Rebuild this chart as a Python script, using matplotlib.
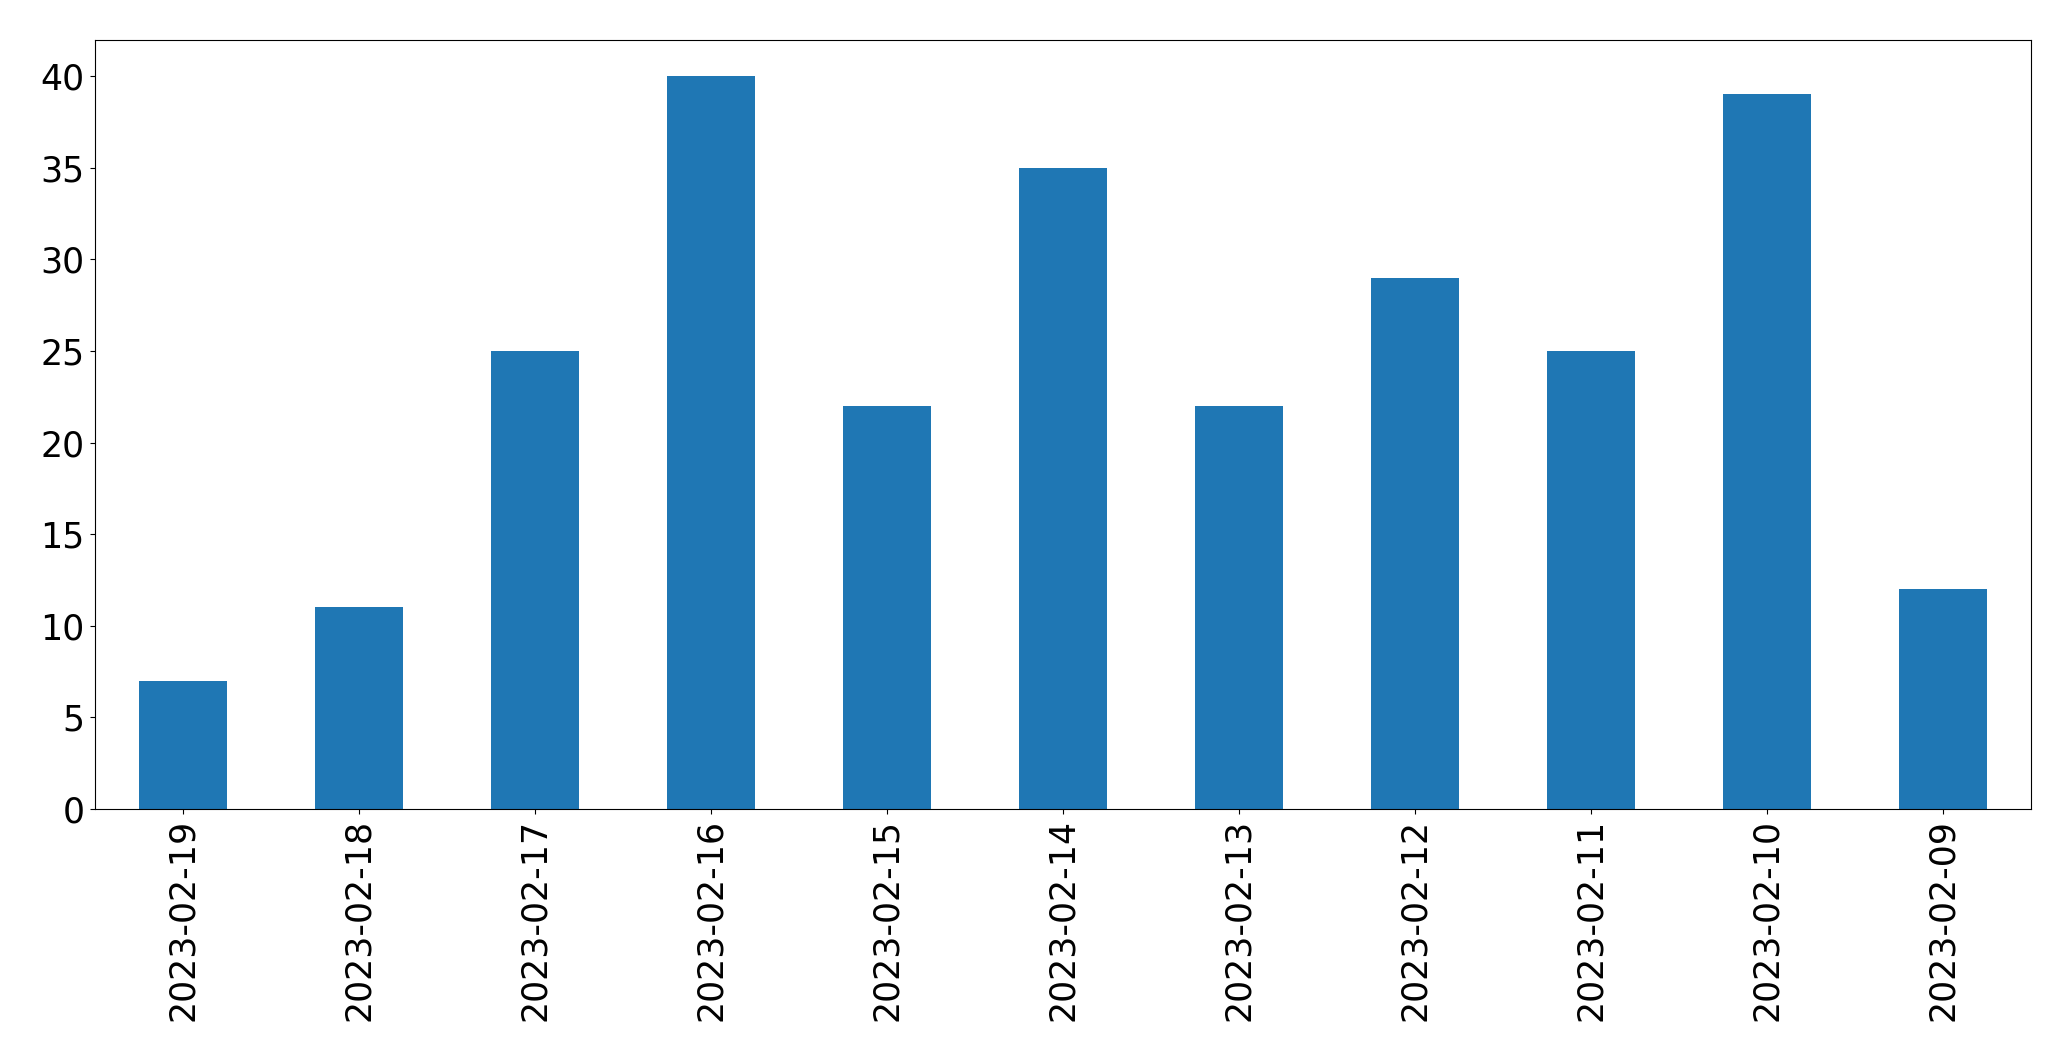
import matplotlib
matplotlib.use("Agg")
import matplotlib.pyplot as plt
import numpy as np

dates = ["2023-02-19", "2023-02-18", "2023-02-17", "2023-02-16", "2023-02-15",
         "2023-02-14", "2023-02-13", "2023-02-12", "2023-02-11", "2023-02-10",
         "2023-02-09"]
counts = [7, 11, 25, 40, 22, 35, 22, 29, 25, 39, 12]

W, H = 2071, 1061
fig = plt.figure(figsize=(W / 100, H / 100), dpi=100)
ax = fig.add_axes([94.5 / W, 1 - 809 / H, (2031 - 94.5) / W, (809 - 39.5) / H])

x = np.arange(len(dates))
ax.bar(x, counts, width=0.5, color="#1f77b4")
ax.set_xlim(-0.5, len(dates) - 0.5)
ax.set_ylim(0, 42)
ax.set_xticks(x)
ax.set_xticklabels(dates, rotation=90)
ax.tick_params(labelsize=25)

fig.savefig("out.png", dpi=100)
